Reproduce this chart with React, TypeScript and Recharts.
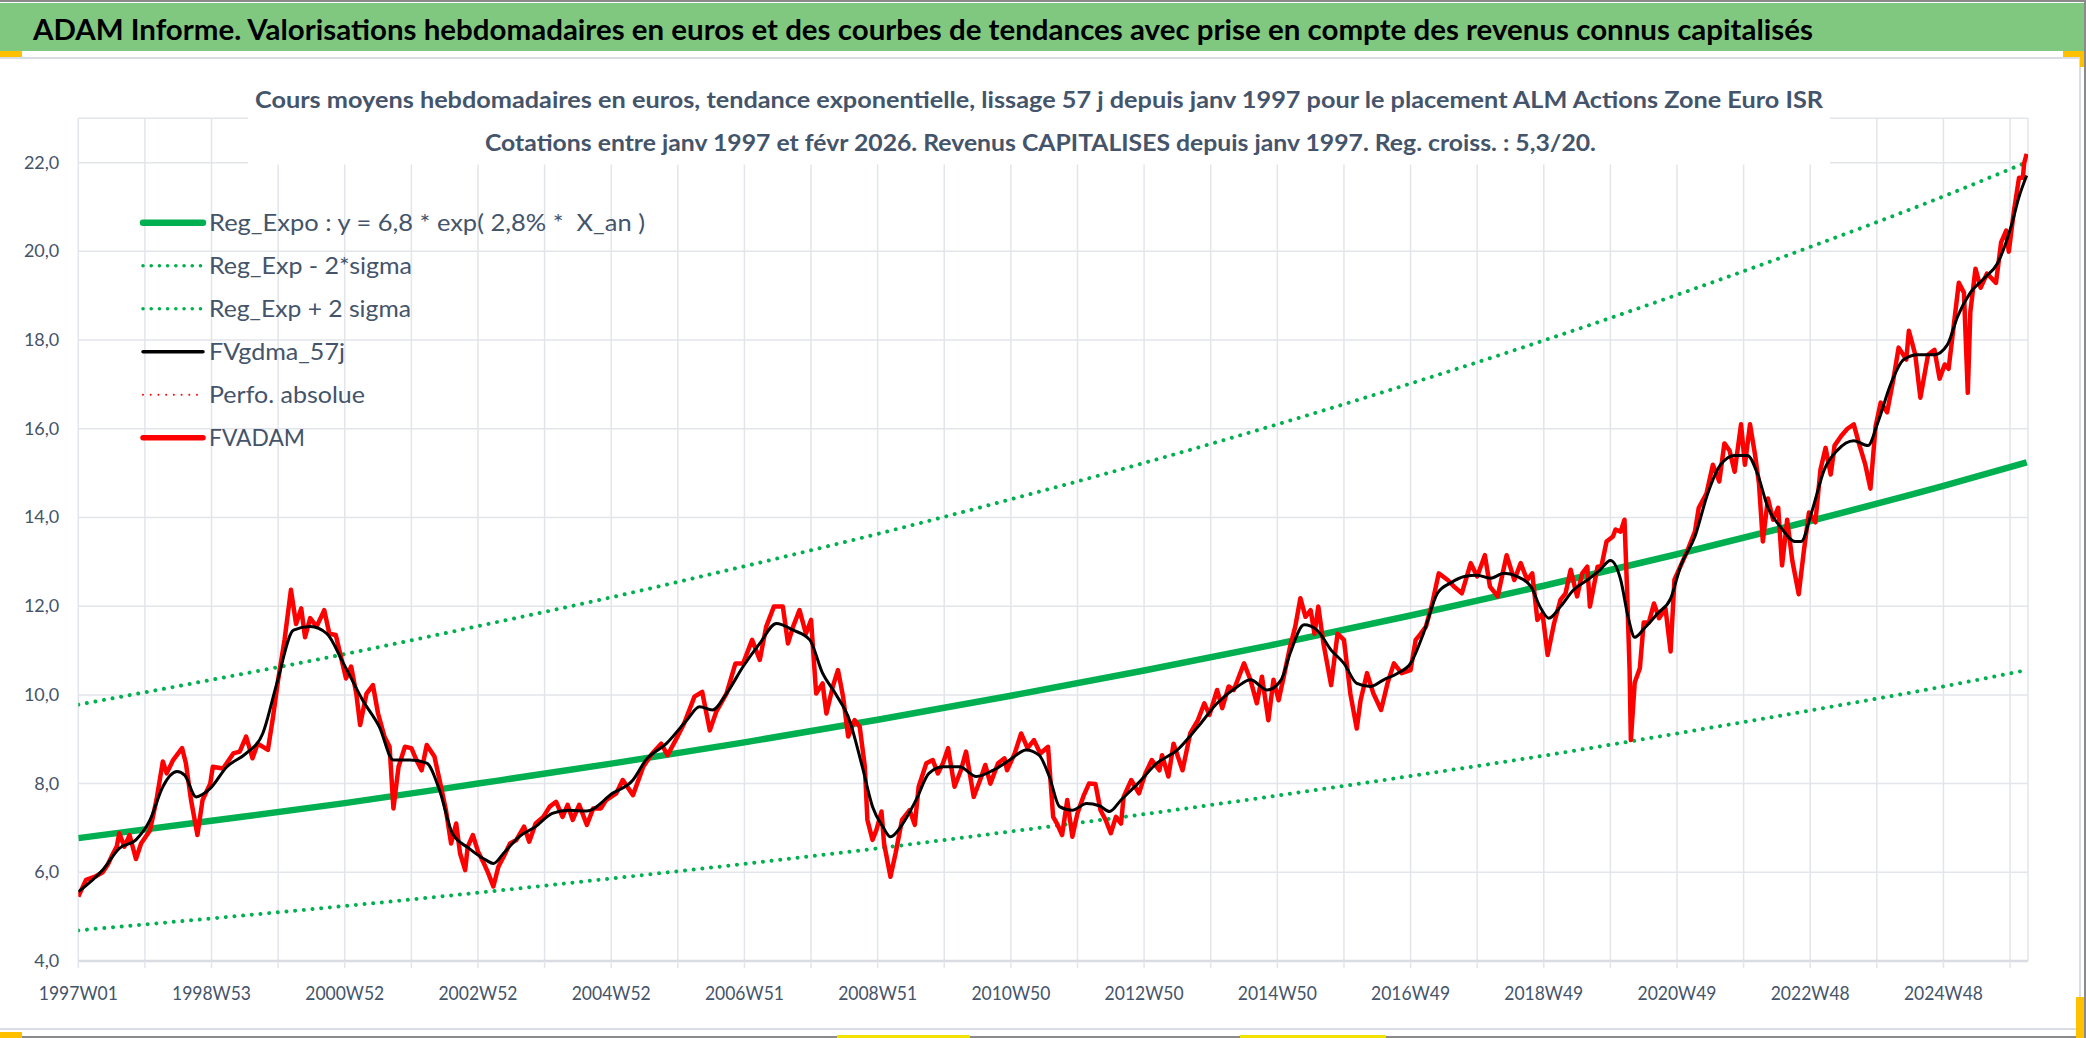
import { LineChart, Line, XAxis, YAxis, CartesianGrid } from 'recharts';

// x axis: week index since 1997W01
const xGridWeeks = [0, 52, 104, 156, 208, 260, 312, 364, 416, 468, 520, 572, 624, 676, 728, 780, 832, 884, 936, 988, 1040, 1092, 1144, 1196, 1248, 1300, 1352, 1404, 1456, 1508];
const xTickLabels = ['1997W01', '1998W53', '2000W52', '2002W52', '2004W52', '2006W51', '2008W51', '2010W50', '2012W50', '2014W50', '2016W49', '2018W49', '2020W49', '2022W48', '2024W48'];
const yTicks = [4, 6, 8, 10, 12, 14, 16, 18, 20, 22];

// FVADAM (weekly quotes)
const redWeeks = [0, 6, 13, 19, 23, 26, 30, 32, 36, 40, 45, 49, 56, 61, 66, 69, 74, 81, 84, 88, 93, 97, 103, 105, 113, 121, 126, 131, 136, 140, 148, 152, 156, 161, 166, 170, 174, 177, 181, 186, 192, 196, 201, 205, 209, 213, 217, 220, 225, 230, 234, 239, 243, 246, 250, 255, 260, 264, 268, 272, 278, 282, 287, 291, 295, 298, 302, 304, 308, 312, 316, 320, 324, 328, 332, 337, 342, 348, 352, 357, 363, 368, 373, 378, 382, 386, 391, 397, 402, 408, 412, 420, 425, 433, 441, 448, 455, 460, 467, 473, 481, 487, 493, 498, 506, 513, 519, 526, 532, 537, 543, 550, 554, 558, 563, 568, 572, 576, 581, 584, 589, 593, 597, 601, 606, 610, 614, 616, 620, 623, 627, 629, 634, 638, 643, 649, 653, 656, 662, 667, 671, 675, 679, 684, 689, 693, 699, 705, 708, 712, 718, 723, 725, 731, 736, 741, 746, 751, 757, 761, 764, 768, 772, 776, 780, 785, 789, 794, 798, 802, 806, 810, 814, 816, 822, 828, 833, 838, 844, 846, 851, 855, 862, 868, 874, 879, 883, 889, 893, 898, 902, 910, 915, 920, 924, 929, 933, 937, 941, 946, 950, 954, 958, 962, 965, 968, 972, 978, 983, 988, 993, 998, 1001, 1006, 1011, 1017, 1022, 1027, 1033, 1040, 1044, 1048, 1052, 1057, 1062, 1069, 1074, 1080, 1087, 1092, 1098, 1102, 1108, 1115, 1121, 1126, 1131, 1135, 1139, 1143, 1147, 1152, 1157, 1161, 1165, 1170, 1174, 1178, 1180, 1186, 1189, 1193, 1198, 1200, 1204, 1207, 1209, 1211, 1212, 1215, 1219, 1222, 1226, 1230, 1234, 1239, 1243, 1246, 1251, 1256, 1262, 1265, 1271, 1276, 1281, 1285, 1289, 1293, 1298, 1301, 1305, 1309, 1312, 1315, 1319, 1323, 1327, 1330, 1334, 1338, 1343, 1347, 1351, 1356, 1360, 1364, 1368, 1371, 1376, 1381, 1386, 1390, 1395, 1399, 1403, 1407, 1412, 1417, 1421, 1427, 1429, 1434, 1438, 1444, 1449, 1453, 1457, 1460, 1464, 1468, 1472, 1475, 1477, 1481, 1485, 1490, 1497, 1501, 1505, 1507, 1511, 1515, 1518, 1519, 1521];
const redValues = [5.45, 5.83, 5.9, 6.0, 6.17, 6.36, 6.58, 6.88, 6.58, 6.84, 6.3, 6.65, 6.95, 7.63, 8.5, 8.23, 8.53, 8.8, 8.46, 7.63, 6.84, 7.63, 8.0, 8.38, 8.34, 8.68, 8.72, 9.06, 8.57, 8.9, 8.76, 9.5, 10.34, 11.24, 12.37, 11.6, 11.95, 11.3, 11.73, 11.54, 11.91, 11.38, 11.35, 10.86, 10.37, 10.64, 10.03, 9.32, 10.03, 10.22, 9.58, 9.06, 8.83, 7.44, 8.38, 8.83, 8.8, 8.53, 8.3, 8.87, 8.61, 8.08, 7.4, 6.65, 7.1, 6.43, 6.05, 6.58, 6.84, 6.47, 6.24, 5.98, 5.68, 6.13, 6.35, 6.65, 6.73, 7.03, 6.69, 7.1, 7.25, 7.48, 7.59, 7.25, 7.52, 7.18, 7.52, 7.07, 7.44, 7.44, 7.63, 7.78, 8.08, 7.74, 8.38, 8.68, 8.9, 8.64, 9.02, 9.36, 9.96, 10.07, 9.2, 9.62, 10.03, 10.71, 10.71, 11.24, 10.79, 11.54, 11.99, 11.99, 11.16, 11.54, 11.91, 11.38, 11.69, 10.03, 10.26, 9.58, 10.19, 10.56, 9.96, 9.06, 9.43, 9.28, 8.38, 7.18, 6.73, 6.95, 7.37, 6.65, 5.9, 6.43, 7.18, 7.4, 7.07, 7.93, 8.46, 8.53, 8.23, 8.46, 8.8, 7.93, 8.3, 8.72, 7.7, 8.16, 8.42, 8.0, 8.46, 8.57, 8.3, 8.68, 9.13, 8.8, 8.98, 8.68, 8.83, 7.25, 7.1, 6.84, 7.63, 6.8, 7.33, 7.74, 8.0, 7.99, 7.4, 7.18, 6.88, 7.25, 7.1, 7.7, 8.08, 7.78, 8.23, 8.53, 8.3, 8.64, 8.16, 8.9, 8.3, 9.13, 9.43, 9.81, 9.55, 10.11, 9.7, 10.19, 10.11, 10.71, 10.34, 9.81, 10.41, 9.43, 10.34, 9.88, 10.41, 11.09, 11.54, 12.18, 11.76, 11.91, 11.38, 11.99, 11.16, 10.22, 11.38, 11.24, 10.03, 9.24, 9.88, 10.49, 10.03, 9.66, 10.26, 10.71, 10.49, 10.56, 11.24, 11.38, 11.54, 12.07, 12.74, 12.59, 12.44, 12.29, 12.97, 12.67, 13.15, 12.44, 12.22, 13.15, 12.59, 12.97, 12.59, 12.74, 11.69, 11.84, 10.9, 11.61, 12.14, 12.29, 12.82, 12.22, 12.74, 12.89, 11.99, 12.89, 12.9, 13.46, 13.57, 13.73, 13.68, 13.95, 12.38, 10.55, 8.98, 10.28, 10.6, 11.63, 11.63, 12.06, 11.73, 11.95, 10.98, 12.6, 12.92, 13.24, 13.68, 14.22, 14.54, 15.19, 14.81, 15.67, 15.51, 15.03, 16.1, 15.19, 16.1, 15.4, 14.76, 13.46, 14.43, 13.95, 14.22, 12.92, 13.95, 13.03, 12.27, 13.24, 14.11, 13.89, 15.08, 15.57, 14.97, 15.62, 15.83, 16.0, 16.1, 15.67, 15.19, 14.65, 16.05, 16.59, 16.37, 17.13, 17.83, 17.56, 18.21, 17.67, 16.7, 17.67, 17.78, 17.13, 17.45, 17.35, 18.32, 19.29, 19.07, 16.81, 18.64, 19.61, 19.18, 19.5, 19.29, 20.2, 20.47, 19.99, 20.91, 21.66, 21.66, 21.99, 22.2];

// FVgdma_57j (smoothed)
const blackWeeks = [0, 19, 32, 45, 56, 66, 77, 83, 92, 103, 116, 131, 144, 155, 168, 181, 194, 207, 222, 235, 246, 259, 272, 282, 292, 305, 318, 324, 332, 344, 357, 370, 383, 397, 417, 433, 443, 459, 475, 485, 495, 506, 519, 532, 545, 558, 571, 581, 591, 602, 612, 620, 628, 634, 643, 654, 664, 675, 688, 701, 714, 727, 740, 750, 758, 766, 776, 787, 797, 805, 814, 827, 842, 858, 874, 889, 905, 915, 928, 939, 946, 957, 967, 978, 988, 998, 1009, 1019, 1030, 1040, 1050, 1061, 1071, 1082, 1092, 1102, 1113, 1123, 1134, 1141, 1148, 1157, 1167, 1178, 1188, 1196, 1204, 1210, 1215, 1223, 1233, 1243, 1251, 1262, 1272, 1282, 1293, 1303, 1311, 1319, 1329, 1340, 1345, 1353, 1363, 1373, 1386, 1397, 1405, 1415, 1425, 1436, 1449, 1459, 1467, 1477, 1488, 1498, 1509, 1515, 1521];
const blackValues = [5.56, 6.05, 6.54, 6.73, 7.18, 7.93, 8.27, 8.19, 7.7, 7.89, 8.38, 8.68, 9.13, 10.26, 11.46, 11.54, 11.38, 10.71, 9.88, 9.28, 8.53, 8.53, 8.46, 7.85, 6.88, 6.54, 6.28, 6.2, 6.43, 6.8, 7.03, 7.33, 7.4, 7.38, 7.78, 8.08, 8.53, 8.9, 9.43, 9.73, 9.66, 10.03, 10.64, 11.16, 11.61, 11.46, 11.24, 10.49, 10.03, 9.43, 8.38, 7.48, 7.03, 6.8, 7.07, 7.63, 8.23, 8.38, 8.38, 8.16, 8.3, 8.53, 8.76, 8.64, 8.16, 7.48, 7.4, 7.55, 7.5, 7.37, 7.63, 8.0, 8.46, 8.76, 9.28, 9.81, 10.19, 10.34, 10.11, 10.34, 10.94, 11.58, 11.46, 11.01, 10.71, 10.26, 10.19, 10.34, 10.49, 10.71, 11.38, 12.29, 12.52, 12.67, 12.7, 12.63, 12.74, 12.67, 12.44, 11.99, 11.73, 11.99, 12.36, 12.59, 12.82, 13.03, 12.6, 11.73, 11.3, 11.52, 11.84, 12.17, 12.92, 13.57, 14.54, 15.19, 15.4, 15.4, 14.97, 14.22, 13.78, 13.46, 13.46, 14.11, 15.08, 15.51, 15.73, 15.62, 16.16, 17.02, 17.56, 17.67, 17.67, 17.89, 18.53, 19.07, 19.4, 19.72, 20.58, 21.23, 21.71];

// regression curves, read at the two-year tick marks
const trendWeeks = [0, 104, 208, 312, 416, 520, 624, 728, 832, 936, 1040, 1144, 1248, 1352, 1456, 1521];
const trendValues = [6.77, 7.16, 7.56, 8.0, 8.45, 8.93, 9.44, 9.98, 10.55, 11.15, 11.79, 12.46, 13.17, 13.92, 14.71, 15.24];
const lowerValues = [4.69, 4.96, 5.24, 5.54, 5.86, 6.19, 6.54, 6.92, 7.31, 7.73, 8.17, 8.63, 9.13, 9.65, 10.19, 10.56];
const upperValues = [9.78, 10.34, 10.92, 11.55, 12.2, 12.9, 13.63, 14.41, 15.23, 16.1, 17.02, 17.99, 19.02, 20.1, 21.24, 22.01];

const pts = (weeks: number[], vals: number[]) => weeks.map((w, i) => ({ w, v: vals[i] }));

const FONT = 'Lato, "Open Sans", sans-serif';
const TEXT = '#44546A';
const GREEN = '#00B050';
const GRID = '#e2e5ea';

const XTick = (props: any) => {
  const { x, y, payload } = props;
  const i = xGridWeeks.indexOf(payload.value);
  if (i < 0 || i % 2 !== 0) return <g />;
  return (
    <text x={x} y={y} dy={30} textAnchor="middle" fontFamily={FONT} fontSize={19} fill={TEXT} textLength={79} lengthAdjust="spacingAndGlyphs">
      {xTickLabels[i / 2]}
    </text>
  );
};

const YTick = (props: any) => {
  const { x, y, payload } = props;
  return (
    <text x={x} y={y} dy={6} textAnchor="end" fontFamily={FONT} fontSize={18} fill={TEXT}>
      {payload.value.toFixed(1).replace('.', ',')}
    </text>
  );
};

const legendItems = [
  { label: 'Reg_Expo : y = 6,8 * exp( 2,8% *  X_an )', len: 436 },
  { label: 'Reg_Exp - 2*sigma', len: 203 },
  { label: 'Reg_Exp + 2 sigma', len: 202 },
  { label: 'FVgdma_57j', len: 136 },
  { label: 'Perfo. absolue', len: 156 },
  { label: 'FVADAM', len: 96 },
];

const LegendSample = ({ i, y }: { i: number; y: number }) => {
  if (i === 0) return <line x1={143} x2={203} y1={y} y2={y} stroke={GREEN} strokeWidth={6.5} strokeLinecap="round" />;
  if (i === 1 || i === 2)
    return <line x1={143} x2={203} y1={y} y2={y} stroke={GREEN} strokeWidth={3.6} strokeLinecap="round" strokeDasharray="0.01 8.2" />;
  if (i === 3) return <line x1={143} x2={203} y1={y} y2={y} stroke="#000" strokeWidth={3.5} strokeLinecap="round" />;
  if (i === 4)
    return <line x1={143} x2={203} y1={y} y2={y} stroke="#FF0000" strokeWidth={2} strokeLinecap="round" strokeDasharray="0.01 7.7" />;
  return <line x1={143} x2={203} y1={y} y2={y} stroke="#FF0000" strokeWidth={5.5} strokeLinecap="round" />;
};

export default function App() {
  return (
    <div style={{ position: 'absolute', left: 0, top: 0, width: 2086, height: 1038, background: '#fff', overflow: 'hidden' }}>
      <div style={{ position: 'absolute', left: 0, top: 0 }}>
        <LineChart width={2086} height={1038} margin={{ top: 118.3, right: 58, bottom: 47, left: 18.3 }}>
          <CartesianGrid stroke={GRID} strokeWidth={1.5} />
          <XAxis
            dataKey="w"
            type="number"
            domain={[0, 1522]}
            ticks={xGridWeeks}
            interval={0}
            height={30}
            tick={<XTick />}
            tickSize={7}
            tickLine={{ stroke: GRID, strokeWidth: 1.5 }}
            axisLine={{ stroke: '#d9dce2', strokeWidth: 2.5 }}
            allowDataOverflow
          />
          <YAxis
            type="number"
            domain={[4, 23]}
            ticks={yTicks}
            interval={0}
            width={60}
            tick={<YTick />}
            tickSize={0}
            tickMargin={19}
            tickLine={false}
            axisLine={false}
            allowDataOverflow
          />
          <Line data={pts(trendWeeks, trendValues)} dataKey="v" type="monotone" stroke={GREEN} strokeWidth={6.5} dot={false} activeDot={false} isAnimationActive={false} />
          <Line data={pts(trendWeeks, lowerValues)} dataKey="v" type="monotone" stroke={GREEN} strokeWidth={4} strokeLinecap="round" strokeDasharray="0.01 8.7" dot={false} activeDot={false} isAnimationActive={false} />
          <Line data={pts(trendWeeks, upperValues)} dataKey="v" type="monotone" stroke={GREEN} strokeWidth={4} strokeLinecap="round" strokeDasharray="0.01 8.7" dot={false} activeDot={false} isAnimationActive={false} />
          <Line data={pts(redWeeks, redValues)} dataKey="v" type="linear" stroke="#FF0000" strokeWidth={4.5} strokeLinejoin="round" dot={false} activeDot={false} isAnimationActive={false} />
          <Line data={pts(blackWeeks, blackValues)} dataKey="v" type="monotone" stroke="#000000" strokeWidth={3} dot={false} activeDot={false} isAnimationActive={false} />
        </LineChart>
      </div>

      <svg width={2086} height={1038} style={{ position: 'absolute', left: 0, top: 0, pointerEvents: 'none' }}>
        {/* header banner */}
        <rect x={0} y={3} width={2084} height={48} fill="#80C880" />
        <text x={33} y={40} fontFamily={FONT} fontWeight={700} fontSize={29} fill="#000" textLength={1780} lengthAdjust="spacingAndGlyphs">
          ADAM Informe. Valorisations hebdomadaires en euros et des courbes de tendances avec prise en compte des revenus connus capitalisés
        </text>

        {/* chart frame */}
        <line x1={0} x2={2080} y1={58} y2={58} stroke="#d9dce2" strokeWidth={2} />
        <line x1={2080} x2={2080} y1={58} y2={1029} stroke="#d9dce2" strokeWidth={2} />
        <line x1={0} x2={2080} y1={1029} y2={1029} stroke="#d9dce2" strokeWidth={2} />

        {/* outer border */}
        <line x1={0} x2={2086} y1={1} y2={1} stroke="#8a8a8a" strokeWidth={2} />
        <line x1={2085} x2={2085} y1={0} y2={1038} stroke="#8a8a8a" strokeWidth={2} />
        <line x1={0} x2={2086} y1={1037} y2={1037} stroke="#8a8a8a" strokeWidth={2} />

        {/* selection handles */}
        <rect x={0} y={51} width={22} height={6} fill="#FFC000" />
        <rect x={2063} y={51} width={20} height={6} fill="#FFC000" />
        <rect x={2080} y={51} width={4} height={16} fill="#FFC000" />
        <rect x={0} y={1032} width={22} height={6} fill="#FFC000" />
        <rect x={2076} y={997} width={8} height={41} fill="#FFC000" />
        <rect x={837} y={1035} width={133} height={3} fill="#F2E200" />
        <rect x={1240} y={1035} width={146} height={3} fill="#F2E200" />

        {/* chart title box */}
        <rect x={248} y={70} width={1582} height={94.5} fill="#fff" />
        <text x={255} y={108} fontFamily={FONT} fontWeight={700} fontSize={23} fill={TEXT} textLength={1568} lengthAdjust="spacingAndGlyphs">
          Cours moyens hebdomadaires en euros, tendance exponentielle, lissage 57 j depuis janv 1997 pour le placement ALM Actions Zone Euro ISR
        </text>
        <text x={485} y={151} fontFamily={FONT} fontWeight={700} fontSize={23} fill={TEXT} textLength={1111} lengthAdjust="spacingAndGlyphs">
          Cotations entre janv 1997 et févr 2026. Revenus CAPITALISES depuis janv 1997. Reg. croiss. : 5,3/20.
        </text>

        {/* legend */}
        {legendItems.map((it, i) => {
          const y = 222.7 + i * 43;
          return (
            <g key={it.label}>
              <LegendSample i={i} y={y} />
              <text x={209} y={y + 8} fontFamily={FONT} fontSize={23} fill={TEXT} textLength={it.len} lengthAdjust="spacingAndGlyphs" style={{ whiteSpace: 'pre' }}>
                {it.label}
              </text>
            </g>
          );
        })}
      </svg>
    </div>
  );
}
